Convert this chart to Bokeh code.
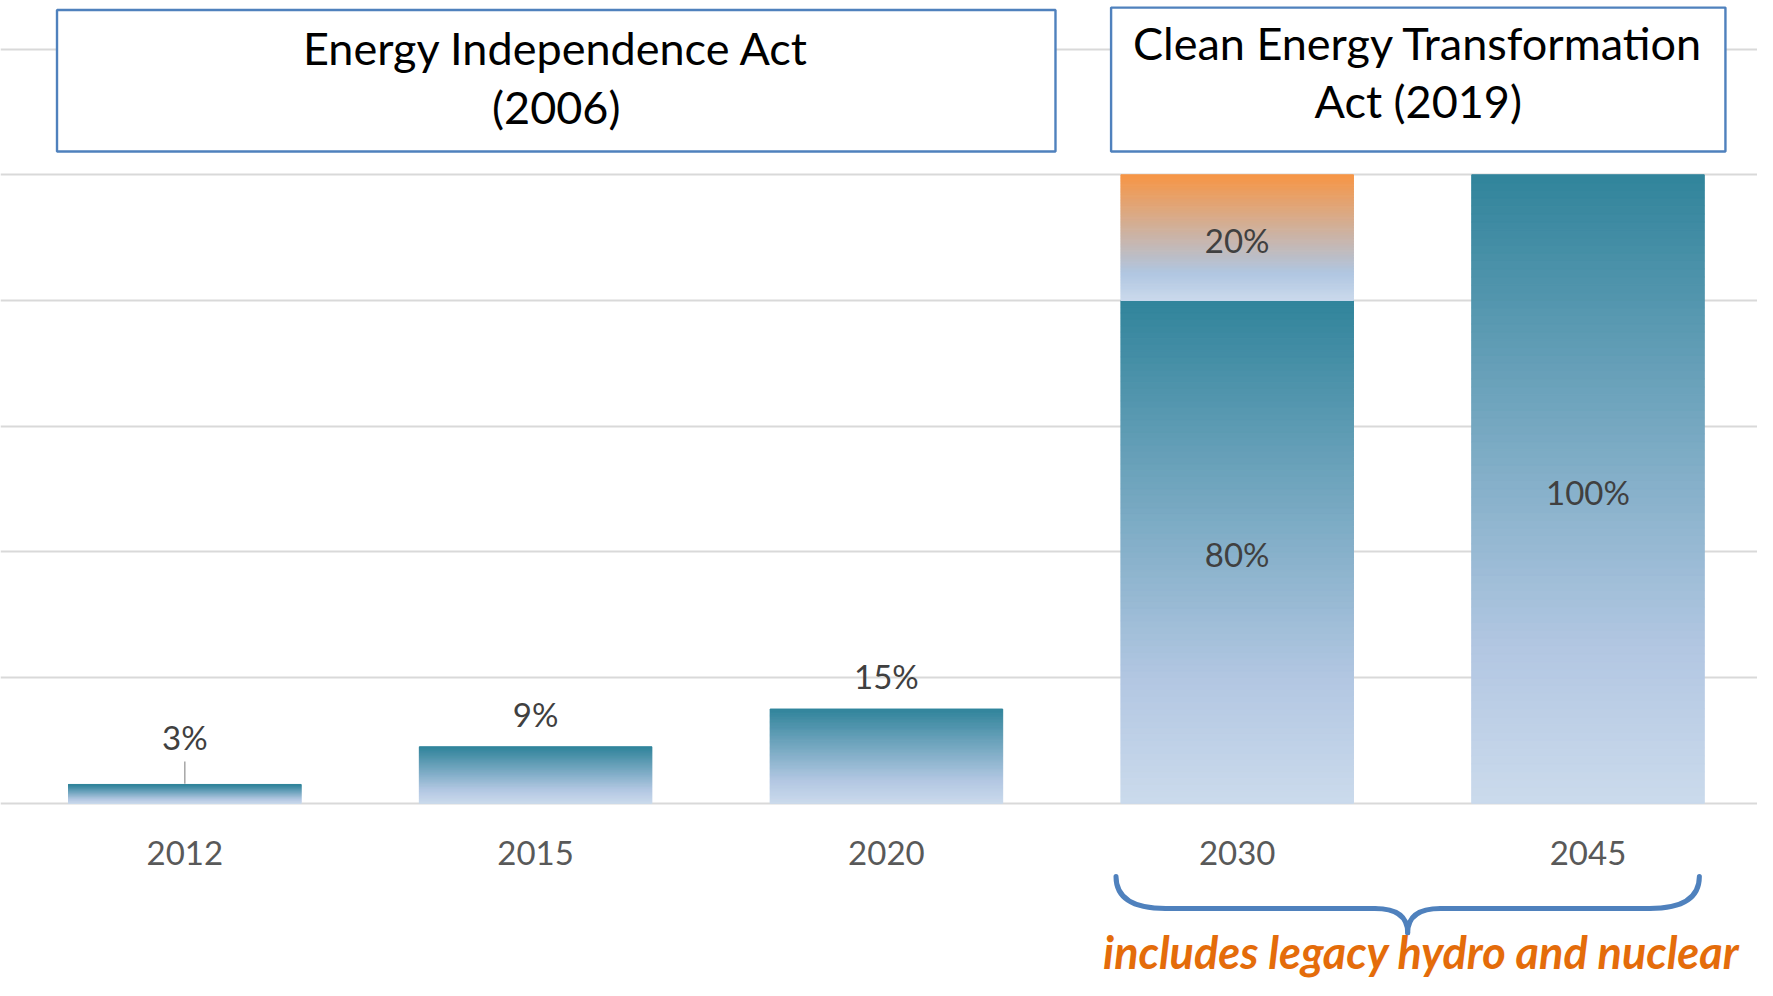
import numpy as np
from bokeh.plotting import figure
from bokeh.models import Range1d, Grid, FixedTicker
from bokeh.core.properties import value
from bokeh.embed import file_html
from bokeh.resources import INLINE

# ---------------- data ----------------
years = ["2012", "2015", "2020", "2030", "2045"]
base_pct = [3, 9, 15, 80, 100]      # teal series
extra_pct = [0, 0, 0, 20, 0]        # orange series (2030 only)
grid_ticks = [0, 20, 40, 60, 80, 100, 120]
act_lines = [["Energy Independence Act", "(2006)"],
             ["Clean Energy Transformation", "Act (2019)"]]
note_text = "includes legacy hydro and nuclear"

# ---------------- layout / style ----------------
W, H = 1757, 980
FONT = value("Lato")
BAR_W = 0.663
TEAL_STOPS = [(0.0, (49, 132, 155)), (0.75, (178, 199, 226)), (1.0, (203, 218, 236))]
ORANGE_STOPS = [(0.0, (247, 150, 70)), (0.78, (176, 198, 225)), (1.0, (203, 218, 236))]

p = figure(width=W, height=H, x_range=Range1d(-0.5254, 4.4832), y_range=Range1d(-28.19, 127.73),
           output_backend="svg", toolbar_location=None,
           x_axis_location=None, y_axis_location=None, min_border=0,
           outline_line_color=None, background_fill_color="white", border_fill_color="white")
p.grid.visible = False
p.add_layout(Grid(dimension=1, ticker=FixedTicker(ticks=grid_ticks),
                  grid_line_color="#D9D9D9", grid_line_width=2))


def grad_color(stops, t):
    for (t0, c0), (t1, c1) in zip(stops[:-1], stops[1:]):
        if t <= t1:
            f = (t - t0) / (t1 - t0) if t1 > t0 else 0
            c = [round(a + (b - a) * f) for a, b in zip(c0, c1)]
            return "#%02x%02x%02x" % tuple(c)
    return "#%02x%02x%02x" % stops[-1][1]


N = 80
ql, qr, qb, qt, qc = [], [], [], [], []


def add_segment(xc, bottom, top, stops):
    for k in range(N):
        y0 = bottom + (top - bottom) * k / N
        y1 = bottom + (top - bottom) * (k + 1) / N
        t = 1 - (k + 0.5) / N
        ql.append(xc - BAR_W / 2)
        qr.append(xc + BAR_W / 2)
        qb.append(y0)
        qt.append(y1)
        qc.append(grad_color(stops, t))


xs = list(range(len(years)))
for i, (b, e) in enumerate(zip(base_pct, extra_pct)):
    add_segment(xs[i], 0, b, TEAL_STOPS)
    if e > 0:
        add_segment(xs[i], b, b + e, ORANGE_STOPS)

p.quad(left=ql, right=qr, bottom=qb, top=qt, fill_color=qc, line_color=qc, line_width=1)

# ---------------- value labels ----------------
lab_x, lab_y, lab_t = [], [], []
lead_x, lead_y0, lead_y1 = [], [], []
for i, (b, e) in enumerate(zip(base_pct, extra_pct)):
    segs = [(0, b)] + ([(b, b + e)] if e > 0 else [])
    for lo, hi in segs:
        v = hi - lo
        if v >= 20:
            y = (lo + hi) / 2 - 0.4
        else:
            y = max(hi + 5.2, 10.5)
            if y > hi + 5.3:
                lead_x.append(xs[i])
                lead_y0.append(hi + 0.1)
                lead_y1.append(y - 3.85)
        lab_x.append(xs[i])
        lab_y.append(y)
        lab_t.append(f"{v}%")

p.segment(x0=lead_x, y0=lead_y0, x1=lead_x, y1=lead_y1, line_color="#A6A6A6", line_width=1.5)
p.text(x=lab_x, y=lab_y, text=lab_t, text_font=FONT, text_font_size="33px",
       text_color="#404040", text_align="center", text_baseline="middle")

# category labels
p.text(x=xs, y=[-7.96] * len(xs), text=years, text_font=FONT, text_font_size="33px",
       text_color="#595959", text_align="center", text_baseline="middle")

# ---------------- act boxes ----------------
box_left = [-0.3643, 2.6405]
box_right = [2.482, 4.3918]
box_top = [126.23, 126.6]
box_bottom = [103.7, 103.7]
p.quad(left=box_left, right=box_right, bottom=box_bottom, top=box_top,
       fill_color="white", line_color="#4F81BD", line_width=2.4)
line_mid = [[120.11, 110.85], [120.89, 111.67]]
for k, lines in enumerate(act_lines):
    cx = (box_left[k] + box_right[k]) / 2
    p.text(x=[cx] * len(lines), y=line_mid[k], text=lines, text_font=FONT,
           text_font_size="45px", text_color="#000000", text_align="center",
           text_baseline="middle")

# ---------------- brace ----------------
x0 = xs[3] - BAR_W / 2 - 0.014
x1 = xs[4] + BAR_W / 2 - 0.014
xm = (x0 + x1) / 2
ytop, ymid, ytip = -11.65, -16.74, -20.6
r1, r2 = 0.142, 0.094
BR = dict(line_color="#4F81BD", line_width=5, line_cap="round")
p.quadratic(x0=[x0, x1], y0=[ytop, ytop], x1=[x0 + r1, x1 - r1], y1=[ymid, ymid],
            cx=[x0, x1], cy=[ymid, ymid], **BR)
p.segment(x0=[x0 + r1, xm + r2], y0=[ymid, ymid], x1=[xm - r2, x1 - r1], y1=[ymid, ymid], **BR)
p.quadratic(x0=[xm - r2, xm + r2], y0=[ymid, ymid], x1=[xm, xm], y1=[ytip, ytip],
            cx=[xm, xm], cy=[ymid, ymid], **BR)

# ---------------- note ----------------
p.text(x=[3.525], y=[-23.66], text=[note_text], text_font=FONT, text_font_size="45px",
       text_font_style="bold italic", text_color="#E46C0A", text_align="center",
       text_baseline="middle")

open("out.html", "w").write(file_html(p, INLINE))
